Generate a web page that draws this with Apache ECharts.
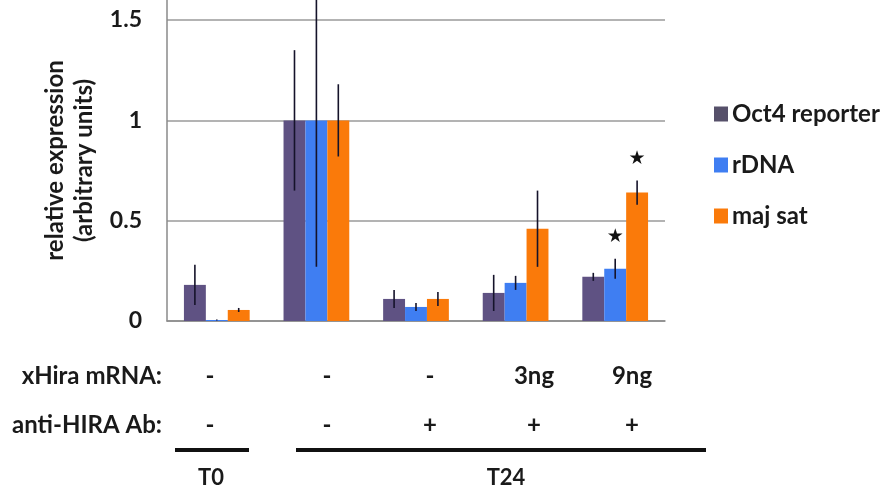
<!DOCTYPE html>
<html>
<head>
<meta charset="utf-8">
<script src="https://cdn.jsdelivr.net/npm/echarts@6/dist/echarts.min.js"></script>
<style>
  html, body { margin: 0; padding: 0; background: #fff; }
  #chart { width: 888px; height: 493px; }
</style>
</head>
<body>
<div id="chart"></div>
<script>
// Conditions (one per bar group)
const categories = ['T0', 'T24', 'T24 Ab', 'T24 Ab 3ng', 'T24 Ab 9ng'];
const mrnaRow = ['-', '-', '-', '3ng', '9ng'];
const abRow = ['-', '-', '+', '+', '+'];

// Relative expression per target, with error (+/-)
const seriesNames = ['Oct4 reporter', 'rDNA', 'maj sat'];
const oct4 = [0.18, 1.0, 0.11, 0.14, 0.22];
const oct4Err = [0.10, 0.35, 0.045, 0.09, 0.02];
const rdna = [0.005, 1.0, 0.07, 0.19, 0.26];
const rdnaErr = [0.003, 0.73, 0.02, 0.035, 0.05];
const majSat = [0.055, 1.0, 0.11, 0.46, 0.64];
const majSatErr = [0.01, 0.18, 0.035, 0.19, 0.06];
// Significance marks
const rdnaStar = [false, false, false, false, true];
const majSatStar = [false, false, false, false, true];

const yTicks = [0, 0.5, 1, 1.5];

const FONT = 'Lato';
const colors = ['#5f5283', '#3f7ef2', '#fa7a0a'];
const legendColors = ['#56506a', '#3f7ef2', '#fa7a0a'];
const CAT_GAP = 0.34;

const chart = echarts.init(document.getElementById('chart'));

const values = [oct4, rdna, majSat];
const errors = [oct4Err, rdnaErr, majSatErr];
const stars = [[false, false, false, false, false], rdnaStar, majSatStar];

function errorSeries(k) {
  return {
    type: 'custom',
    name: seriesNames[k] + ' error',
    z: 5,
    silent: true,
    data: values[k].map((v, i) => [i, v - errors[k][i], v + errors[k][i], stars[k][i] ? 1 : 0]),
    renderItem: function (params, api) {
      const band = api.size([1, 0])[0];
      const barW = band * (1 - CAT_GAP) / 3;
      const cx = api.coord([api.value(0), 0])[0] + (k - 1) * barW;
      const lo = api.coord([api.value(0), api.value(1)])[1];
      const hi = api.coord([api.value(0), api.value(2)])[1];
      const children = [{
        type: 'line',
        shape: { x1: cx, y1: lo, x2: cx, y2: hi },
        style: { stroke: '#15132a', lineWidth: 1.6 }
      }];
      if (api.value(3)) {
        children.push({
          type: 'text',
          style: {
            text: '★', x: cx, y: hi - 12,
            align: 'center', verticalAlign: 'bottom',
            font: '19px "DejaVu Sans"', fill: '#111'
          }
        });
      }
      return { type: 'group', children: children };
    },
    encode: { x: 0, y: [1, 2] }
  };
}

const barSeries = values.map((arr, k) => ({
  type: 'bar',
  name: seriesNames[k],
  data: arr,
  barGap: 0,
  barCategoryGap: (CAT_GAP * 100) + '%',
  itemStyle: { color: colors[k] },
  z: 2
}));

// Condition table under the axis
const rowX = [210, 327, 430, 534, 632];
const textStyleBase = { font: 'bold 24px ' + FONT, fill: '#1a1a1a' };
function label(text, x, y, align, font) {
  return {
    type: 'text', x: x, y: y,
    style: Object.assign({ text: text, align: align, verticalAlign: 'middle' }, textStyleBase, font ? { font: font } : {})
  };
}
const graphics = [
  label('xHira mRNA:', 162, 376, 'right'),
  label('anti-HIRA Ab:', 162, 425, 'right')
];
mrnaRow.forEach((t, i) => graphics.push(label(t, rowX[i], 376, 'center')));
abRow.forEach((t, i) => graphics.push(label(t, rowX[i], 425, 'center')));
graphics.push(
  { type: 'line', shape: { x1: 175, y1: 450, x2: 249, y2: 450 }, style: { stroke: '#111', lineWidth: 4 } },
  { type: 'line', shape: { x1: 296, y1: 450, x2: 706, y2: 450 }, style: { stroke: '#111', lineWidth: 4 } },
  label('T0', 211, 478, 'center', 'bold 22px ' + FONT),
  label('T24', 506, 478, 'center', 'bold 22px ' + FONT)
);

chart.setOption({
  backgroundColor: '#ffffff',
  animation: false,
  grid: { left: 167, right: 223, top: 0, bottom: 172 },
  legend: {
    orient: 'vertical',
    left: 709,
    top: 97,
    itemWidth: 14,
    itemHeight: 15,
    itemGap: 27,
    icon: 'rect',
    data: seriesNames.map((n, k) => ({ name: n, itemStyle: { color: legendColors[k] } })),
    textStyle: { fontFamily: FONT, fontWeight: 'bold', fontSize: 24, lineHeight: 24, color: '#1a1a1a', padding: [0, 0, 0, -1] }
  },
  xAxis: {
    type: 'category',
    data: categories,
    axisLine: { lineStyle: { color: '#8a8a8a', width: 1.5 } },
    axisTick: { show: false },
    axisLabel: { show: false }
  },
  yAxis: {
    type: 'value',
    min: 0,
    max: 1.6,
    interval: 0.5,
    name: 'relative expression\n(arbitrary units)',
    nameLocation: 'middle',
    nameGap: 68,
    nameTextStyle: { fontFamily: FONT, fontWeight: 'bold', fontSize: 24, color: '#1a1a1a', lineHeight: 29 },
    axisLine: { show: true, lineStyle: { color: '#8a8a8a', width: 1.5 } },
    axisTick: { show: false },
    axisLabel: {
      showMaxLabel: false,
      margin: 25,
      fontFamily: FONT, fontWeight: 'bold', fontSize: 23, color: '#1a1a1a',
      formatter: v => (yTicks.indexOf(v) >= 0 ? String(v) : '')
    },
    splitLine: { showMaxLine: false, lineStyle: { color: '#9a9a9a', width: 1.5 } }
  },
  graphic: graphics,
  series: barSeries.concat([0, 1, 2].map(errorSeries))
});
</script>
</body>
</html>
